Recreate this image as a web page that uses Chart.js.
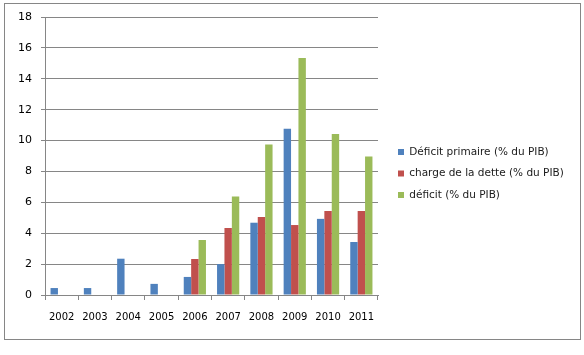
<!DOCTYPE html>
<html><head><meta charset="utf-8">
<script src="https://cdn.jsdelivr.net/npm/chart.js@4/dist/chart.umd.min.js"></script>
<style>
html,body{margin:0;padding:0;background:#fff;}
#frame{position:absolute;left:4px;top:3px;width:575px;height:335px;border:1px solid #868686;}
#wrap{position:absolute;left:0;top:0;width:584px;height:355px;}
</style></head>
<body>
<div id="frame"></div>
<div id="wrap"><canvas id="c" width="584" height="355"></canvas></div>
<script>
const years = ['2002','2003','2004','2005','2006','2007','2008','2009','2010','2011'];
const deficitPrimaire = [0.45,0.45,2.35,0.72,1.17,2.0,4.68,10.77,4.93,3.43];
const chargeDette = [null,null,null,null,2.33,4.34,5.05,4.53,5.44,5.44];
const deficit = [null,null,null,null,3.56,6.37,9.75,15.35,10.43,8.96];
const seriesNames = ['Déficit primaire (% du PIB)','charge de la dette (% du PIB)','déficit (% du PIB)'];
const yMin = 0, yMax = 18, yStep = 2;

const gridColor = '#868686';
const legendWidthPlugin = {
  id: 'legendWidth',
  afterInit(chart) {
    const lg = chart.legend;
    if (!lg) return;
    const orig = lg.fit;
    lg.fit = function() {
      this.maxWidth = 400;
      orig.call(this);
      this.width = 197;
    };
  }
};
new Chart(document.getElementById('c'), {
  type: 'bar',
  data: {
    labels: years,
    datasets: [
      {label: seriesNames[0], data: deficitPrimaire, backgroundColor: '#4F81BD'},
      {label: seriesNames[1], data: chargeDette, backgroundColor: '#C0504D'},
      {label: seriesNames[2], data: deficit, backgroundColor: '#9BBB59'}
    ]
  },
  plugins: [legendWidthPlugin],
  options: {
    responsive: false,
    animation: false,
    devicePixelRatio: 1,
    layout: {padding: {top: 17, bottom: 25, left: 0, right: 0}},
    datasets: {bar: {categoryPercentage: 0.667, barPercentage: 1.0}},
    plugins: {
      tooltip: {enabled: false},
      legend: {
        position: 'right',
        align: 'center',
        labels: {
          boxWidth: 6, boxHeight: 6, padding: 11,
          color: '#1a1a1a',
          font: {family: 'DejaVu Sans', size: 10.5}
        }
      }
    },
    scales: {
      x: {
        grid: {display: true, drawOnChartArea: false, offset: true, tickLength: 5, color: gridColor},
        border: {display: true, color: gridColor},
        ticks: {color: '#000', padding: 11, font: {family: 'DejaVu Sans', size: 10}, maxRotation: 0},
        afterFit: s => { s.height = 35; }
      },
      y: {
        min: yMin, max: yMax,
        grid: {color: gridColor, tickLength: 4},
        border: {display: true, color: gridColor},
        ticks: {stepSize: yStep, color: '#000', padding: 9, font: {family: 'DejaVu Sans', size: 11}},
        afterFit: s => { s.width = 45; }
      },
      gap: {
        type: 'linear', position: 'right', display: true,
        grid: {display: false}, border: {display: false}, ticks: {display: false},
        afterFit: s => { s.width = 9; }
      }
    }
  }
});
</script>
</body></html>
